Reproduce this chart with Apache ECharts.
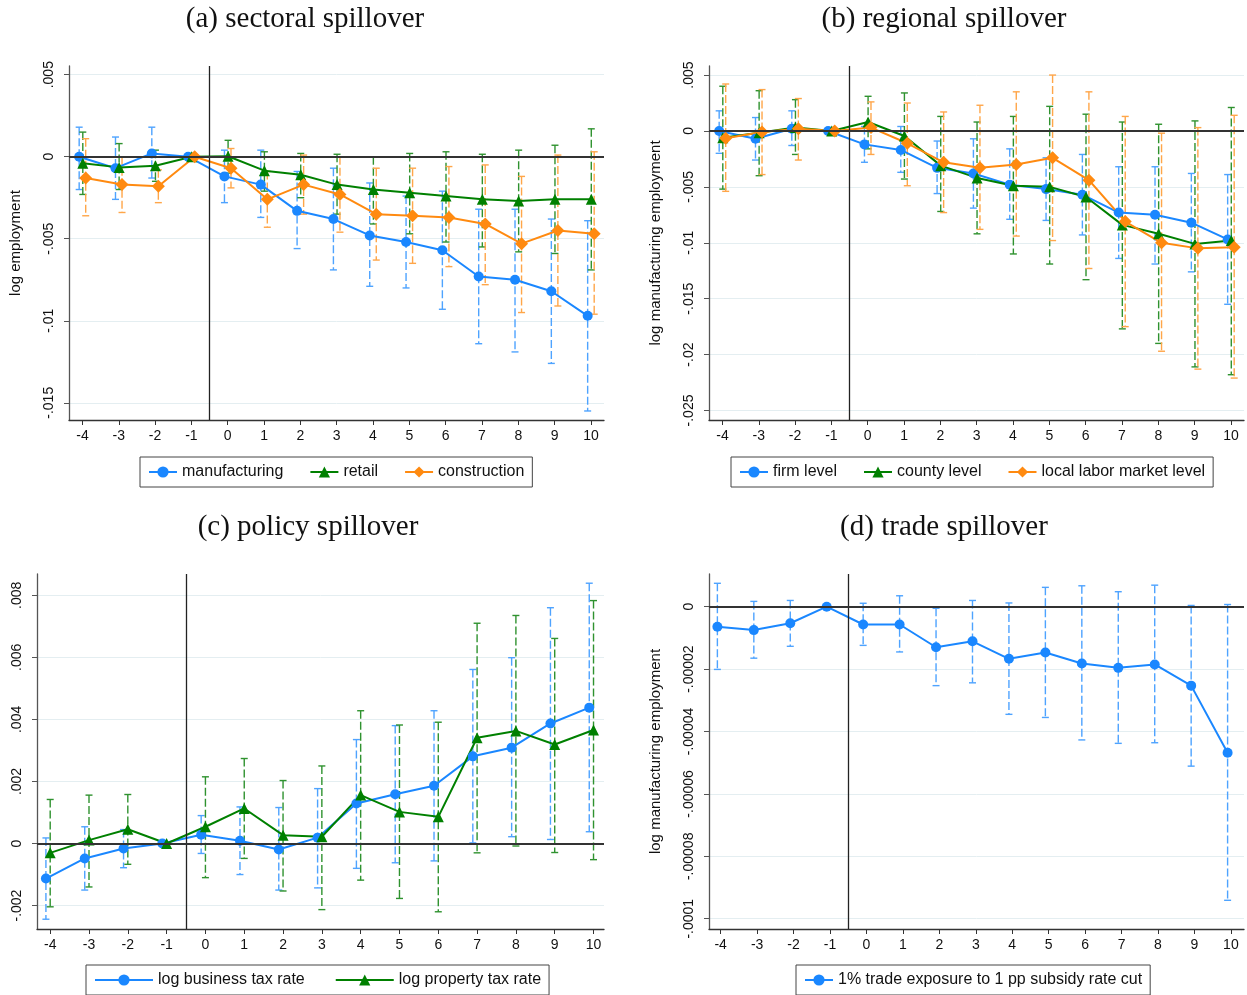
<!DOCTYPE html>
<html>
<head>
<meta charset="utf-8">
<title>spillover event studies</title>
<script src="https://cdn.jsdelivr.net/npm/echarts@6/dist/echarts.min.js"></script>
<style>
  html, body { margin: 0; padding: 0; background: #fff; }
  #chart { width: 1247px; height: 995px; }
</style>
</head>
<body>
<div id="chart"></div>
<script>
// event time
var periods = [-4, -3, -2, -1, 0, 1, 2, 3, 4, 5, 6, 7, 8, 9, 10];

// (a) sectoral spillover
var mfgCoef = [0.0000, -0.0007, 0.0002, 0, -0.0012, -0.0017, -0.0033, -0.0038, -0.0048, -0.0052, -0.0057, -0.0073, -0.0075, -0.0082, -0.0097];
var mfgHi   = [0.0018, 0.0012, 0.0018, null, 0.0004, 0.0004, -0.0009, -0.0007, -0.0016, -0.0024, -0.0021, -0.0032, -0.0032, -0.0038, -0.0039];
var mfgLo   = [-0.0020, -0.0026, -0.0013, null, -0.0028, -0.0037, -0.0056, -0.0069, -0.0079, -0.0080, -0.0093, -0.0114, -0.0119, -0.0126, -0.0155];

var retailCoef = [-0.0004, -0.00065, -0.00055, 0, 0.00003, -0.00085, -0.0011, -0.0017, -0.0020, -0.0022, -0.0024, -0.0026, -0.0027, -0.0026, -0.0026];
var retailHi   = [0.0015, 0.0008, 0.0004, null, 0.0010, 0.0003, 0.0002, 0.00015, 0.0000, 0.0002, 0.0003, 0.00015, 0.0004, 0.0007, 0.0017];
var retailLo   = [-0.0023, -0.0020, -0.0015, null, -0.0010, -0.0021, -0.0025, -0.0035, -0.0041, -0.0047, -0.0052, -0.0055, -0.0058, -0.0059, -0.0069];

var constrCoef = [-0.0013, -0.0017, -0.0018, 0, -0.0007, -0.0026, -0.0017, -0.0023, -0.0035, -0.0036, -0.0037, -0.0041, -0.0053, -0.0045, -0.0047];
var constrHi   = [0.0011, 0.0000, -0.0008, null, 0.0005, -0.0009, 0.0001, 0.0000, -0.0007, -0.0007, -0.0006, -0.0005, -0.0012, 0.0001, 0.0003];
var constrLo   = [-0.0036, -0.0034, -0.0028, null, -0.0019, -0.0043, -0.0035, -0.0046, -0.0063, -0.0065, -0.0067, -0.0078, -0.0095, -0.0091, -0.0096];

// (b) regional spillover (firm level = manufacturing estimates above)
var countyCoef = [-0.0006, -0.00015, 0.0003, 0, 0.0008, -0.00045, -0.0031, -0.0042, -0.0049, -0.0050, -0.0059, -0.0084, -0.0092, -0.0101, -0.0098];
var countyHi   = [0.0040, 0.0036, 0.0028, null, 0.0031, 0.0034, 0.0013, 0.0008, 0.0013, 0.0022, 0.0015, 0.0008, 0.0006, 0.0009, 0.0021];
var countyLo   = [-0.0052, -0.0040, -0.0021, null, -0.0016, -0.0043, -0.0072, -0.0092, -0.0110, -0.0119, -0.0133, -0.0177, -0.0190, -0.0211, -0.0218];

var llmCoef = [-0.00065, -0.0001, 0.0002, 0, 0.0003, -0.0011, -0.0028, -0.0033, -0.0030, -0.0024, -0.0044, -0.0081, -0.0100, -0.0105, -0.0104];
var llmHi   = [0.0042, 0.0037, 0.0029, null, 0.0026, 0.0025, 0.0017, 0.0023, 0.0035, 0.0050, 0.0035, 0.0013, -0.0002, 0.0003, 0.0014];
var llmLo   = [-0.0054, -0.0039, -0.0026, null, -0.0021, -0.0049, -0.0073, -0.0088, -0.0094, -0.0098, -0.0123, -0.0175, -0.0197, -0.0213, -0.0221];

// (c) policy spillover
var bizCoef = [-0.00113, -0.00048, -0.00016, 0, 0.00028, 0.00009, -0.00019, 0.00019, 0.00129, 0.00159, 0.00186, 0.00281, 0.00309, 0.00387, 0.00438];
var bizHi   = [0.00018, 0.00054, 0.00045, null, 0.0009, 0.00118, 0.00116, 0.00177, 0.00335, 0.0038, 0.00428, 0.00561, 0.00599, 0.0076, 0.00839];
var bizLo   = [-0.00244, -0.0015, -0.00078, null, -0.00032, -0.001, -0.0015, -0.00143, -0.0008, -0.00062, -0.00056, 0.00002, 0.00022, 0.00013, 0.00038];

var propCoef = [-0.0003, 0.00011, 0.00046, 0, 0.00054, 0.00113, 0.00027, 0.00022, 0.00156, 0.00102, 0.00086, 0.00341, 0.00363, 0.00319, 0.00366];
var propHi   = [0.00142, 0.00156, 0.00158, null, 0.00215, 0.00274, 0.00203, 0.0025, 0.00428, 0.00382, 0.00391, 0.0071, 0.00735, 0.00661, 0.00783];
var propLo   = [-0.00204, -0.0014, -0.00067, null, -0.0011, -0.00048, -0.00153, -0.00213, -0.00118, -0.00177, -0.0022, -0.0003, -0.00008, -0.00029, -0.00052];

// (d) trade spillover
var tradeCoef = [-0.0000064, -0.0000075, -0.0000053, 0, -0.0000057, -0.0000057, -0.000013, -0.0000111, -0.0000167, -0.0000147, -0.0000182, -0.0000196, -0.0000185, -0.0000253, -0.0000468];
var tradeHi   = [0.0000075, 0.0000017, 0.000002, null, 0.0000011, 0.0000035, -0.0000005, 0.000002, 0.0000012, 0.0000062, 0.0000067, 0.0000048, 0.0000069, 0.0000004, 0.0000007];
var tradeLo   = [-0.0000201, -0.0000165, -0.0000127, null, -0.0000124, -0.0000145, -0.0000253, -0.0000244, -0.0000345, -0.0000355, -0.0000427, -0.0000438, -0.0000436, -0.0000511, -0.0000941];

// y tick labels
var yTicksA = [-0.015, -0.01, -0.005, 0, 0.005];
var yTicksB = [-0.025, -0.02, -0.015, -0.01, -0.005, 0, 0.005];
var yTicksC = [-0.002, 0, 0.002, 0.004, 0.006, 0.008];
var yTicksD = [-0.0001, -0.00008, -0.00006, -0.00004, -0.00002, 0];

// ---- style ----
var SANS = 'Liberation Sans, Arial, sans-serif';
var SERIF = 'Liberation Serif, Times New Roman, serif';
var BLUE = '#1a87ff', GREEN = '#008000', ORANGE = '#ff8a10';
var BLUE_CI = '#4ea3ff', GREEN_CI = '#2f922f', ORANGE_CI = '#ffa649';

var series = [];

function stataNum(v) {
    if (v === 0) return '0';
    var s = String(Number(v.toPrecision(6)));
    return s.replace(/^(-?)0\./, '$1.');
}

function errBars(color) {
    return function (params, api) {
        var x = api.value(0);
        var pLo = api.coord([x, api.value(1)]);
        var pHi = api.coord([x, api.value(2)]);
        var c = 3.5;
        var st = { stroke: color, lineWidth: 1.4 };
        return {
            type: 'group',
            children: [
                { type: 'line', shape: { x1: pHi[0], y1: pHi[1], x2: pLo[0], y2: pLo[1] },
                  style: { stroke: color, lineWidth: 1.4, lineDash: [8, 3] } },
                { type: 'line', shape: { x1: pHi[0] - c, y1: pHi[1], x2: pHi[0] + c, y2: pHi[1] }, style: st },
                { type: 'line', shape: { x1: pLo[0] - c, y1: pLo[1], x2: pLo[0] + c, y2: pLo[1] }, style: st }
            ]
        };
    };
}

function addModel(idx, name, coef, lo, hi, color, ciColor, symbol, size, off) {
    var ci = [];
    for (var i = 0; i < periods.length; i++) {
        if (lo[i] !== null) ci.push([periods[i] + off, lo[i], hi[i]]);
    }
    series.push({
        name: name + ' CI', type: 'custom', xAxisIndex: idx, yAxisIndex: idx,
        renderItem: errBars(ciColor), encode: { x: 0, y: [1, 2] },
        data: ci, z: 2, silent: true
    });
    series.push({
        name: name, type: 'line', xAxisIndex: idx, yAxisIndex: idx,
        data: periods.map(function (p, i) { return [p + off, coef[i]]; }),
        symbol: symbol, symbolSize: size, showSymbol: true,
        itemStyle: { color: color }, lineStyle: { color: color, width: 2 },
        z: 4
    });
}

function refLines(idx) {
    series.push({
        name: 'ref' + idx, type: 'line', xAxisIndex: idx, yAxisIndex: idx, data: [], z: 3,
        markLine: {
            silent: true, symbol: ['none', 'none'], label: { show: false },
            data: [
                { xAxis: -0.5, lineStyle: { color: '#222', width: 1.3, type: 'solid' } },
                { yAxis: 0, lineStyle: { color: '#333', width: 2, type: 'solid' } }
            ]
        }
    });
}

refLines(0); refLines(1); refLines(2); refLines(3);

addModel(0, 'manufacturing', mfgCoef, mfgLo, mfgHi, BLUE, BLUE_CI, 'circle', 10, -0.09);
addModel(0, 'retail', retailCoef, retailLo, retailHi, GREEN, GREEN_CI, 'triangle', 11, 0.01);
addModel(0, 'construction', constrCoef, constrLo, constrHi, ORANGE, ORANGE_CI, 'diamond', 13, 0.09);

addModel(1, 'firm level', mfgCoef, mfgLo, mfgHi, BLUE, BLUE_CI, 'circle', 10, -0.09);
addModel(1, 'county level', countyCoef, countyLo, countyHi, GREEN, GREEN_CI, 'triangle', 11, 0.01);
addModel(1, 'local labor market level', llmCoef, llmLo, llmHi, ORANGE, ORANGE_CI, 'diamond', 13, 0.09);

addModel(2, 'log business tax rate', bizCoef, bizLo, bizHi, BLUE, BLUE_CI, 'circle', 10, -0.11);
addModel(2, 'log property tax rate', propCoef, propLo, propHi, GREEN, GREEN_CI, 'triangle', 11, 0.0);

addModel(3, '1% trade exposure to 1 pp subsidy rate cut', tradeCoef, tradeLo, tradeHi, BLUE, BLUE_CI, 'circle', 10, -0.09);

var grids = [
    { left: 69, top: 66, width: 535, height: 354 },
    { left: 709, top: 66, width: 535, height: 354 },
    { left: 37, top: 574, width: 567, height: 355 },
    { left: 709, top: 574, width: 535, height: 355 }
];
var xRanges = [[-4.37, 10.36], [-4.37, 10.36], [-4.34, 10.27], [-4.32, 10.36]];
var yRanges = [[-0.01605, 0.00553], [-0.02585, 0.00581], [-0.002755, 0.008687], [-0.0001033, 0.00001048]];
var yTicks = [yTicksA, yTicksB, yTicksC, yTicksD];
var yNames = ['log employment', 'log manufacturing employment', '', 'log manufacturing employment'];

var xAxes = [], yAxes = [];
for (var g = 0; g < 4; g++) {
    xAxes.push({
        type: 'value', gridIndex: g, min: xRanges[g][0], max: xRanges[g][1],
        axisLine: { show: true, onZero: false, lineStyle: { color: '#333', width: 1.3 } },
        axisTick: { show: true, length: 5, customValues: periods, lineStyle: { color: '#333' } },
        axisLabel: { customValues: periods, fontSize: 14, color: '#111', fontFamily: SANS, margin: 9 },
        splitLine: { show: false }
    });
    yAxes.push({
        type: 'value', gridIndex: g, min: yRanges[g][0], max: yRanges[g][1],
        axisLine: { show: true, onZero: false, lineStyle: { color: '#555', width: 1.3 } },
        axisTick: { show: true, length: 5, customValues: yTicks[g], lineStyle: { color: '#555' } },
        axisLabel: { customValues: yTicks[g], rotate: 90, fontSize: 14, color: '#111',
                     fontFamily: SANS, margin: 13, formatter: stataNum },
        splitLine: { show: true, lineStyle: { color: '#e4eef1', width: 1 } },
        name: yNames[g], nameLocation: 'middle', nameGap: 46,
        nameTextStyle: { fontSize: 15, color: '#111', fontFamily: SANS }
    });
}

function legendAt(left, top, names, iconW, gap) {
    return {
        left: left, top: top, orient: 'horizontal', data: names,
        itemWidth: iconW, itemHeight: 14, itemGap: gap,
        borderColor: '#444', borderWidth: 1, padding: [7, 8],
        selectedMode: false,
        textStyle: { fontSize: 16, color: '#111', fontFamily: SANS }
    };
}

function titleAt(text, x, y) {
    return {
        text: text, left: x, top: y, textAlign: 'center', padding: 0,
        textStyle: { fontFamily: SERIF, fontSize: 29, fontWeight: 'normal', color: '#111' }
    };
}

var option = {
    animation: false,
    backgroundColor: '#fff',
    title: [
        titleAt('(a) sectoral spillover', 305, 5),
        titleAt('(b) regional spillover', 944, 5),
        titleAt('(c) policy spillover', 308, 513),
        titleAt('(d) trade spillover', 944, 513)
    ],
    legend: [
        legendAt(140, 457, ['manufacturing', 'retail', 'construction'], 28, 26),
        legendAt(731, 457, ['firm level', 'county level', 'local labor market level'], 28, 26),
        legendAt(86, 965, ['log business tax rate', 'log property tax rate'], 58, 30),
        legendAt(796, 965, ['1% trade exposure to 1 pp subsidy rate cut'], 28, 26)
    ],
    grid: grids,
    xAxis: xAxes,
    yAxis: yAxes,
    series: series
};

var chart = echarts.init(document.getElementById('chart'));
chart.setOption(option);
</script>
</body>
</html>
